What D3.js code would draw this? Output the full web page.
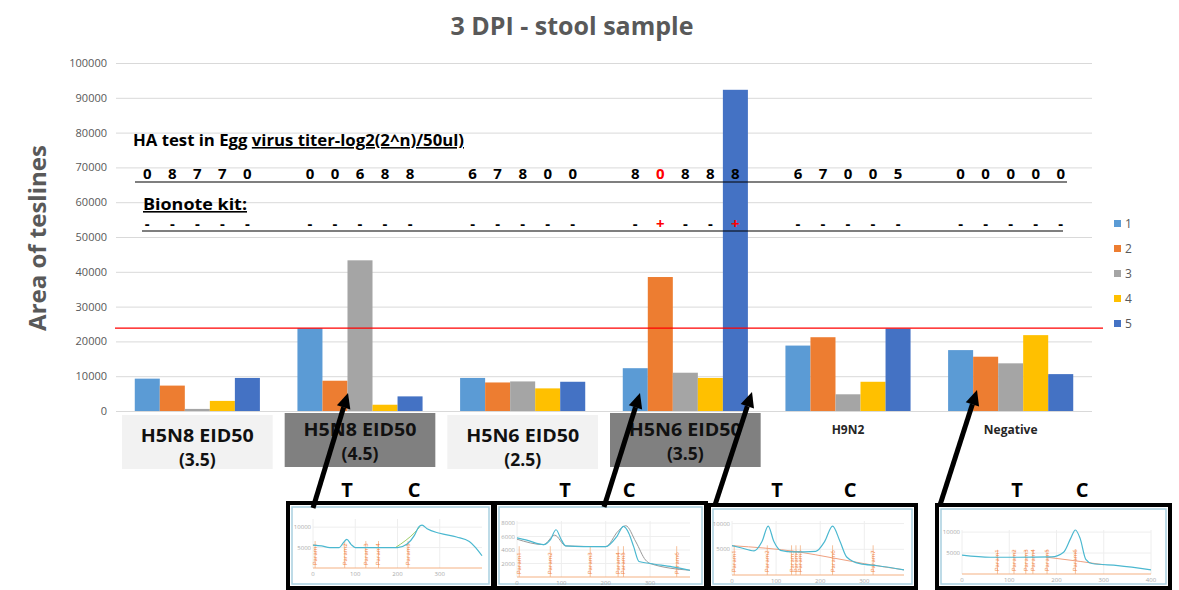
<!DOCTYPE html>
<html><head><meta charset="utf-8">
<script src="https://cdn.jsdelivr.net/npm/d3@7"></script>
<style>body{margin:0;background:#fff;} text{font-family:"Open Sans","Noto Sans",sans-serif;}</style>
</head><body><svg id="c" width="1179" height="590"></svg>
<script>
// ---------- data ----------
const categories = ["H5N8 EID50 (3.5)","H5N8 EID50 (4.5)","H5N6 EID50 (2.5)","H5N6 EID50 (3.5)","H9N2","Negative"];
const seriesNames = ["1","2","3","4","5"];
const series1 = [9300, 23800, 9500, 12300, 18800, 17500];
const series2 = [7300, 8700, 8200, 38500, 21200, 15600];
const series3 = [600, 43300, 8500, 11000, 4800, 13700];
const series4 = [2900, 1800, 6500, 9500, 8400, 21800];
const series5 = [9500, 4200, 8400, 92300, 23700, 10600];
const seriesColors = ["#5B9BD5","#ED7D31","#A5A5A5","#FFC000","#4472C4"];
const threshold = 23800;
const yTicks = [0,10000,20000,30000,40000,50000,60000,70000,80000,90000,100000];
const haTiters = [["0","8","7","7","0"],["0","0","6","8","8"],["6","7","8","0","0"],["8","0","8","8","8"],["6","7","0","0","5"],["0","0","0","0","0"]];
const haRedCells = [[3,1]];
const bionote = [["-","-","-","-","-"],["-","-","-","-","-"],["-","-","-","-","-"],["-","+","-","-","+"],["-","-","-","-","-"],["-","-","-","-","-"]];
const boxLine1 = ["H5N8 EID50","H5N8 EID50","H5N6 EID50","H5N6 EID50"];
const boxLine2 = ["(3.5)","(4.5)","(2.5)","(3.5)"];
const boxStyle = ["light","dark","light","dark"];
const axisLabels = ["","","","","H9N2","Negative"];

// inset curves (densitometry traces)
const inset1Trace = [[0,5600],[20,5400],[40,5000],[62,5000],[72,6200],[80,7000],[90,5800],[100,5000],[150,5000],[200,5000],[222,5800],[240,8000],[250,10000],[258,10500],[270,9600],[300,8500],[340,7600],[370,6500],[385,5000],[400,3000]];
const inset1Alt = [[195,5000],[220,6800],[240,8600],[252,10000]];
const inset1Params = [5,75,125,155,225];
const inset2Trace = [[0,5800],[20,5500],[60,4800],[75,5500],[88,7000],[100,5500],[110,4600],[150,4500],[200,4500],[225,6000],[240,7500],[252,6500],[263,4500],[275,2300],[300,2000],[350,1500],[390,1000]];
const inset2Alt = [[0,5600],[60,4800],[85,6200],[110,4600],[200,4500],[228,6800],[245,7600],[268,5200],[290,2500],[300,2000],[390,1000]];
const inset2Params = [5,75,165,228,240,360];
const inset3Trace = [[0,5700],[20,5300],[50,4700],[68,6500],[82,9500],[95,6500],[110,4800],[140,4500],[190,4600],[210,6500],[228,9500],[245,6500],[260,3500],[290,2200],[330,1800],[390,1000]];
const inset3Alt = [[0,5700],[150,4500],[230,3300],[300,2200],[390,1000]];
const inset3Params = [5,80,135,145,155,228,320];
const inset4Trace = [[0,4500],[60,4000],[120,4000],[190,4100],[215,5200],[230,8500],[240,10500],[250,8500],[262,3500],[275,2500],[330,2000],[400,1000]];
const inset4Alt = [[180,4000],[250,3000],[300,2200]];
const inset4Params = [75,110,135,150,180,240];

// ---------- layout ----------
const svg = d3.select("#c");
const plotL = 116, plotR = 1092, plotT = 63, plotB = 411;
const x0 = d3.scaleBand().domain(categories).range([plotL, plotR]);
const x1 = d3.scaleBand().domain(seriesNames).range([0, x0.bandwidth()]).paddingOuter(0.75);
const y = d3.scaleLinear().domain([0, 100000]).range([plotB, plotT]);
const allSeries = [series1, series2, series3, series4, series5];

// title
svg.append("text").attr("x", 572).attr("y", 35).attr("text-anchor","middle")
  .attr("font-size", 25).attr("font-weight","bold").attr("fill","#595959").text("3 DPI - stool sample");

// y label
svg.append("text").attr("transform","translate(46,238) rotate(-90)").attr("text-anchor","middle")
  .attr("font-size", 24).attr("font-weight","bold").attr("fill","#595959").text("Area of teslines");

// y axis + grid
const yAxis = svg.append("g").attr("transform",`translate(${plotL},0)`)
  .call(d3.axisLeft(y).tickValues(yTicks).tickFormat(d3.format("d")).tickSizeInner(-(plotR - plotL)).tickSizeOuter(0).tickPadding(9));
yAxis.select(".domain").remove();
yAxis.selectAll(".tick line").attr("stroke","#D9D9D9");
yAxis.selectAll(".tick text").attr("font-size", 11).attr("fill","#595959").attr("font-family","Open Sans, sans-serif");

// bars
const groups = svg.append("g").selectAll("g").data(categories).join("g")
  .attr("transform", d => `translate(${x0(d)},0)`);
groups.selectAll("rect").data((c, ci) => seriesNames.map((s, si) => ({s, v: allSeries[si][ci], si})))
  .join("rect")
  .attr("x", d => x1(d.s)).attr("width", x1.bandwidth())
  .attr("y", d => y(d.v)).attr("height", d => y(0) - y(d.v))
  .attr("fill", d => seriesColors[d.si]);

// threshold line
svg.append("line").attr("x1", plotL - 1).attr("x2", 1103).attr("y1", y(threshold)).attr("y2", y(threshold))
  .attr("stroke","#FF0000").attr("stroke-width",1.3);

// bottom axis labels (H9N2, Negative)
const xAxis = svg.append("g").attr("transform",`translate(0,${plotB})`)
  .call(d3.axisBottom(x0).tickSize(0).tickPadding(14).tickFormat((d,i) => axisLabels[i]));
xAxis.select(".domain").remove();
xAxis.selectAll(".tick text").attr("font-size", 12).attr("font-weight","bold").attr("fill","#262626").attr("font-family","Open Sans, sans-serif");

// category boxes
boxLine1.forEach((t, i) => {
  const bx = x0(categories[i]) + 6, bw = x0.bandwidth() - 12;
  const dark = boxStyle[i] === "dark";
  svg.append("rect").attr("x", bx).attr("y", dark ? 413 : 415).attr("width", bw).attr("height", 54)
    .attr("fill", dark ? "#808080" : "#F2F2F2");
  const cx = bx + bw / 2;
  svg.append("text").attr("x", cx).attr("y", dark ? 436 : 442).attr("text-anchor","middle")
    .attr("font-size", 17.5).attr("font-weight","bold").attr("fill","#111")
    .attr("textLength", 113).attr("lengthAdjust","spacingAndGlyphs").text(t);
  svg.append("text").attr("x", cx).attr("y", dark ? 460 : 466).attr("text-anchor","middle")
    .attr("font-size", 17.5).attr("font-weight","bold").attr("fill","#111").text(boxLine2[i]);
});

// legend
seriesNames.forEach((s, i) => {
  const ly = 224 + i * 25;
  svg.append("rect").attr("x", 1114).attr("y", ly - 4).attr("width", 7).attr("height", 7).attr("fill", seriesColors[i]);
  svg.append("text").attr("x", 1125).attr("y", ly + 4).attr("font-size", 12).attr("fill","#595959").text(s);
});

// HA annotation
const ha = svg.append("text").attr("x", 133).attr("y", 146).attr("font-size", 16).attr("font-weight","bold").attr("fill","#000")
  .attr("textLength", 331).attr("lengthAdjust","spacingAndGlyphs");
ha.append("tspan").text("HA test in Egg ");
ha.append("tspan").attr("text-decoration","underline").text("virus titer-log2(2^n)/50ul)");

function rowText(rows, yy, redCells) {
  rows.forEach((r, ci) => r.forEach((v, si) => {
    const red = redCells.some(([a,b]) => a === ci && b === si);
    svg.append("text").attr("x", x0(categories[ci]) + x1(seriesNames[si]) + x1.bandwidth()/2)
      .attr("y", yy).attr("text-anchor","middle").attr("font-size", 15).attr("font-weight","bold")
      .attr("fill", red ? "#FF0000" : "#000").text(v);
  }));
}
rowText(haTiters, 179, haRedCells);
svg.append("line").attr("x1",135).attr("x2",1067).attr("y1",182).attr("y2",182).attr("stroke","#000").attr("stroke-width",1.2);

svg.append("text").attr("x",143).attr("y",210).attr("font-size",16).attr("font-weight","bold")
  .attr("textLength", 104).attr("lengthAdjust","spacingAndGlyphs").attr("text-decoration","underline").text("Bionote kit:");
const bnRed = [];
bionote.forEach((r, ci) => r.forEach((v, si) => { if (v === "+") bnRed.push([ci, si]); }));
rowText(bionote, 229, bnRed);
svg.append("line").attr("x1",142).attr("x2",1063).attr("y1",231).attr("y2",231).attr("stroke","#000").attr("stroke-width",1.2);

// T / C labels
const tcLabels = [[347,"T"],[414,"C"],[565,"T"],[629,"C"],[777,"T"],[850,"C"],[1017,"T"],[1082,"C"]];
tcLabels.forEach(([tx, t]) => svg.append("text").attr("x", tx).attr("y", 497).attr("text-anchor","middle")
  .attr("font-size", 20).attr("font-weight","bold").attr("fill","#000").text(t));

// insets
const insets = [
  {fx:288, fy:503, fw:205, fh:85, xr:[313,482], xd:[0,400], yr:[568,519], yd:[0,12000], yt:[5000,10000], xt:[0,100,200,300], trace:inset1Trace, alt:inset1Alt, altColor:"#9ccc65", params:inset1Params},
  {fx:495, fy:503, fw:211, fh:85, xr:[517,690], xd:[0,390], yr:[577,521], yd:[0,8300], yt:[2000,4000,6000,8000], xt:[0,100,200,300], trace:inset2Trace, alt:inset2Alt, altColor:"#999", params:inset2Params},
  {fx:709, fy:505, fw:207, fh:83, xr:[732,904], xd:[0,390], yr:[575,521], yd:[0,10500], yt:[5000,10000], xt:[0,100,200,300], trace:inset3Trace, alt:inset3Alt, altColor:"#f0a080", params:inset3Params},
  {fx:937, fy:505, fw:233, fh:83, xr:[962,1151], xd:[0,400], yr:[574,530], yd:[0,10500], yt:[5000,10000], xt:[0,100,200,300,400], trace:inset4Trace, alt:inset4Alt, altColor:"#f0a080", params:inset4Params}
];
insets.forEach(ins => {
  const g = svg.append("g");
  g.append("rect").attr("x", ins.fx + 4).attr("y", ins.fy + 4).attr("width", ins.fw - 8).attr("height", ins.fh - 8)
    .attr("fill","#fff").attr("stroke","#a9d0e0").attr("stroke-width",1.5);
  const xs = d3.scaleLinear().domain(ins.xd).range(ins.xr);
  const ys = d3.scaleLinear().domain(ins.yd).range(ins.yr);
  ins.yt.forEach(t => {
    g.append("line").attr("x1", ins.xr[0]).attr("x2", ins.xr[1]).attr("y1", ys(t)).attr("y2", ys(t)).attr("stroke","#eee");
    g.append("text").attr("x", ins.xr[0] - 2).attr("y", ys(t) + 2).attr("text-anchor","end").attr("font-size",6).attr("fill","#aaa").text(t);
  });
  ins.xt.forEach(t => {
    g.append("line").attr("x1", xs(t)).attr("x2", xs(t)).attr("y1", ins.yr[0]).attr("y2", ins.yr[1]).attr("stroke","#eee");
    g.append("text").attr("x", xs(t)).attr("y", ins.yr[0] + 8).attr("text-anchor","middle").attr("font-size",6).attr("fill","#aaa").text(t);
  });
  g.append("line").attr("x1", ins.xr[0]).attr("x2", ins.xr[1]).attr("y1", ins.yr[0]).attr("y2", ins.yr[0]).attr("stroke","#f4b183");
  ins.params.forEach((p, i) => {
    g.append("line").attr("x1", xs(p)).attr("x2", xs(p)).attr("y1", ins.yr[0]).attr("y2", ys(ins.yd[1]*0.55)).attr("stroke","#f4b183").attr("stroke-width",0.8);
    g.append("text").attr("transform", `translate(${xs(p)+2},${ins.yr[0]-3}) rotate(-90)`).attr("font-size",6).attr("fill","#f08040").text("Param" + (i + 1));
  });
  const line = d3.line().x(d => xs(d[0])).y(d => ys(d[1])).curve(d3.curveMonotoneX);
  g.append("path").attr("d", line(ins.alt)).attr("fill","none").attr("stroke", ins.altColor).attr("stroke-width",1);
  g.append("path").attr("d", line(ins.trace)).attr("fill","none").attr("stroke","#4bb8d0").attr("stroke-width",1.2);
  g.append("rect").attr("x", ins.fx).attr("y", ins.fy).attr("width", ins.fw).attr("height", ins.fh)
    .attr("fill","none").attr("stroke","#000").attr("stroke-width",4);
});

// arrows (tail at inset, head at bar)
const arrows = [[313,508,348,393],[604,507,640,393],[715,505,752,392],[940,505,977,390]];
arrows.forEach(([xa, ya, xb, yb]) => {
  const ang = Math.atan2(yb - ya, xb - xa), L = 15, Wd = 7;
  const bx = xb - L * Math.cos(ang), by = yb - L * Math.sin(ang);
  svg.append("line").attr("x1", xa).attr("y1", ya).attr("x2", bx).attr("y2", by).attr("stroke","#000").attr("stroke-width",5);
  const px = -Math.sin(ang) * Wd, py = Math.cos(ang) * Wd;
  svg.append("polygon").attr("points", `${xb},${yb} ${bx+px},${by+py} ${bx-px},${by-py}`).attr("fill","#000");
});
</script></body></html>
